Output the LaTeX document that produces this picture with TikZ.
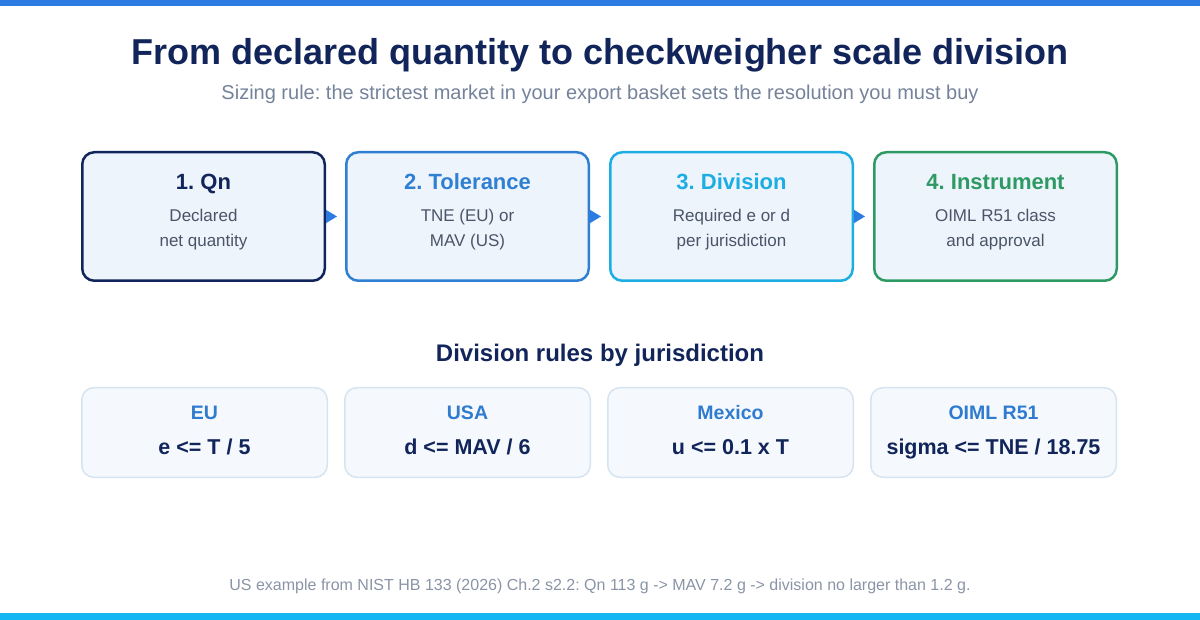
\documentclass[tikz,border=0pt]{standalone}
\usepackage{fontspec}
\setmainfont{Liberation Sans}
\usetikzlibrary{positioning,arrows.meta}
\frenchspacing
\definecolor{navy}{HTML}{11255A}
\definecolor{subgray}{HTML}{74829A}
\definecolor{bodygray}{HTML}{4A5568}
\definecolor{boxfill}{HTML}{EEF4FC}
\definecolor{tolblue}{HTML}{2F7FD3}
\definecolor{divcyan}{HTML}{1CAEE2}
\definecolor{instgreen}{HTML}{2E9A63}
\definecolor{arrowblue}{HTML}{2B7BE0}
\definecolor{rulefill}{HTML}{F5F9FD}
\definecolor{ruleline}{HTML}{D6E3F0}
\definecolor{rulelabel}{HTML}{2F7BCF}
\definecolor{footgray}{HTML}{8A94A6}
\definecolor{topbar}{HTML}{2B7BE0}
\definecolor{botbar}{HTML}{12B6F2}
\begin{document}
\begin{tikzpicture}[x=1pt,y=-1pt,
	stagebox/.style={draw=#1,line width=2.5pt,rounded corners=12pt,fill=boxfill,minimum width=242.5pt,minimum height=128.5pt},
	stagehead/.style={anchor=base,text=#1,font=\fontsize{22}{26}\selectfont\bfseries},
	stagetext/.style={anchor=base,text=bodygray,align=center,font=\fontsize{17}{25}\selectfont},
	rulebox/.style={draw=ruleline,line width=1.5pt,rounded corners=12pt,fill=rulefill,minimum width=245.5pt,minimum height=89.5pt},
	rulehead/.style={anchor=base,text=rulelabel,font=\fontsize{19.5}{23}\selectfont\bfseries},
	ruletext/.style={anchor=base,text=navy,font=\fontsize{21.5}{26}\selectfont\bfseries},
	flow/.style={draw=arrowblue,line width=1pt,shorten >=8pt,-{Triangle[length=11pt,width=13pt]}}]
\useasboundingbox (0,0) rectangle (1200,620);
\fill[topbar] (0,0) rectangle (1200,6);
\fill[botbar] (0,613) rectangle (1200,620);
\node[anchor=base,text=navy,font=\fontsize{36}{42}\selectfont\bfseries] (title) at (600,65) {From declared quantity to checkweigher scale division};
\node[anchor=base,text=subgray,font=\fontsize{20}{24}\selectfont] (subtitle) at (600,100) {Sizing rule: the strictest market in your export basket sets the resolution you must buy};

\node[stagebox=navy] (qn) at (203.5,216.5) {};
\node[stagebox=tolblue,right=19pt of qn] (tol) {};
\node[stagebox=divcyan,right=19pt of tol] (div) {};
\node[stagebox=instgreen,right=19pt of div] (inst) {};
\node[stagehead=navy] (qnhead) at ([yshift=-39pt]qn.north) {1. Qn};
\node[stagehead=tolblue] (tolhead) at ([yshift=-39pt]tol.north) {2. Tolerance};
\node[stagehead=divcyan] (divhead) at ([yshift=-39pt]div.north) {3. Division};
\node[stagehead=instgreen] (insthead) at ([yshift=-39pt]inst.north) {4. Instrument};
\node[stagetext] (qntext) at ([yshift=-96pt]qn.north) {Declared\\net quantity};
\node[stagetext] (toltext) at ([yshift=-96pt]tol.north) {TNE (EU) or\\MAV (US)};
\node[stagetext] (divtext) at ([yshift=-96pt]div.north) {Required e or d\\per jurisdiction};
\node[stagetext] (insttext) at ([yshift=-96pt]inst.north) {OIML R51 class\\and approval};
\draw[flow] (qn) -- (tol);
\draw[flow] (tol) -- (div);
\draw[flow] (div) -- (inst);

\node[anchor=base,text=navy,font=\fontsize{24}{28}\selectfont\bfseries] (rulestitle) at (600,362) {Division rules by jurisdiction};
\node[rulebox] (eu) at (204.5,432.5) {};
\node[rulebox,right=16pt of eu] (usa) {};
\node[rulebox,right=16pt of usa] (mex) {};
\node[rulebox,right=16pt of mex] (oiml) {};
\node[rulehead] (euhead) at ([yshift=-33pt]eu.north) {EU};
\node[rulehead] (usahead) at ([yshift=-33pt]usa.north) {USA};
\node[rulehead] (mexhead) at ([yshift=-33pt]mex.north) {Mexico};
\node[rulehead] (oimlhead) at ([yshift=-33pt]oiml.north) {OIML R51};
\node[ruletext] (eutext) at ([yshift=-67pt]eu.north) {e <= T / 5};
\node[ruletext] (usatext) at ([yshift=-67pt]usa.north) {d <= MAV / 6};
\node[ruletext] (mextext) at ([yshift=-67pt]mex.north) {u <= 0.1 x T};
\node[ruletext] (oimltext) at ([yshift=-67pt]oiml.north) {sigma <= TNE / 18.75};

\node[anchor=base,text=footgray,font=\fontsize{16}{20}\selectfont] (foot) at (600,590) {US example from NIST HB 133 (2026) Ch.2 s2.2: Qn 113 g -> MAV 7.2 g -> division no larger than 1.2 g.};
\end{tikzpicture}
\end{document}
